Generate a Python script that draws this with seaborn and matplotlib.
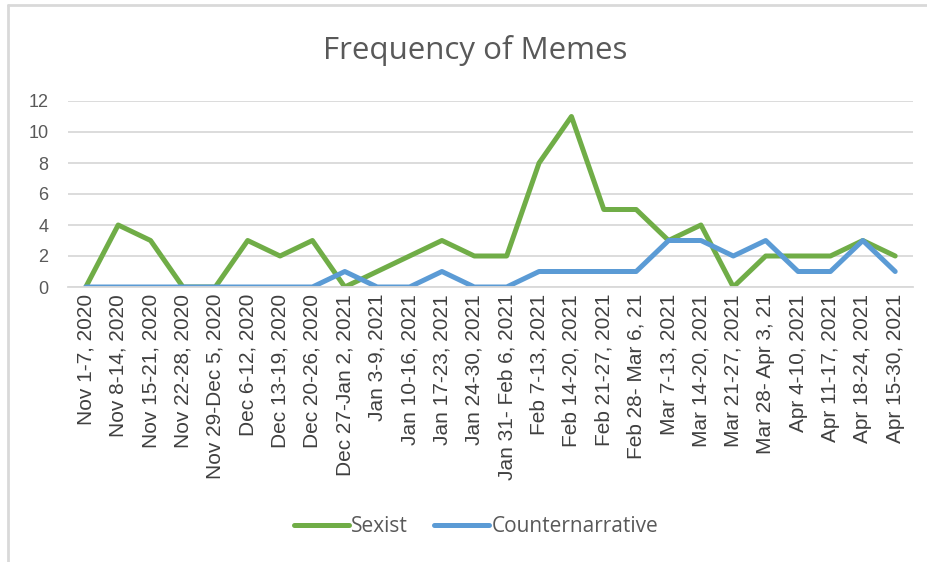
import matplotlib
matplotlib.use("Agg")
import matplotlib.pyplot as plt
from matplotlib.lines import Line2D
import seaborn as sns
import pandas as pd

weeks = ["Nov 1-7, 2020", "Nov 8-14, 2020", "Nov 15-21, 2020", "Nov 22-28, 2020",
         "Nov 29-Dec 5, 2020", "Dec 6-12, 2020", "Dec 13-19, 2020", "Dec 20-26, 2020",
         "Dec 27-Jan 2, 2021", "Jan 3-9, 2021", "Jan 10-16, 2021", "Jan 17-23, 2021",
         "Jan 24-30, 2021", "Jan 31- Feb 6, 2021", "Feb 7-13, 2021", "Feb 14-20, 2021",
         "Feb 21-27, 2021", "Feb 28- Mar 6, 21", "Mar 7-13, 2021", "Mar 14-20, 2021",
         "Mar 21-27, 2021", "Mar 28- Apr 3, 21", "Apr 4-10, 2021", "Apr 11-17, 2021",
         "Apr 18-24, 2021", "Apr 15-30, 2021"]
sexist = [0, 4, 3, 0, 0, 3, 2, 3, 0, 1, 2, 3, 2, 2, 8, 11, 5, 5, 3, 4, 0, 2, 2, 2, 3, 2]
counter = [0, 0, 0, 0, 0, 0, 0, 0, 1, 0, 0, 1, 0, 0, 1, 1, 1, 1, 3, 3, 2, 3, 1, 1, 3, 1]
series_names = ["Sexist", "Counternarrative"]
y_ticks = [0, 2, 4, 6, 8, 10, 12]

df = pd.concat([
    pd.DataFrame({"week": weeks, "count": sexist, "series": series_names[0]}),
    pd.DataFrame({"week": weeks, "count": counter, "series": series_names[1]}),
])

sns.set_theme(style="white")
plt.rcParams["font.family"] = ["Open Sans", "DejaVu Sans"]
txt = "#595959"

fig = plt.figure(figsize=(9.28, 5.62), dpi=100)
ax = fig.add_axes([68 / 928, 1 - 287 / 562, (913 - 68) / 928, (287 - 101) / 562])

sns.lineplot(data=df, x="week", y="count", hue="series", sort=False,
             palette={"Sexist": "#70AD47", "Counternarrative": "#5B9BD5"},
             linewidth=3.6, ax=ax, legend=False)

ax.set_xlim(-0.55, len(weeks) - 0.45)
ax.set_ylim(0, 12)
ax.set_yticks(y_ticks)
ax.set_xticks(range(len(weeks)))
ax.set_xticklabels(weeks, rotation=90, fontsize=15, color="#404040", fontfamily=["Liberation Sans"])
ax.tick_params(axis="y", labelsize=13, labelcolor=txt, length=0, pad=14)
ax.tick_params(axis="x", length=0, pad=5)
for lab in ax.get_yticklabels():
    lab.set_fontfamily(["Liberation Sans"])
ax.grid(axis="y", color="#D9D9D9", linewidth=1.3)
ax.grid(axis="x", visible=False)
for s in ["top", "right", "left"]:
    ax.spines[s].set_visible(False)
ax.spines["bottom"].set_color("#D9D9D9")
ax.spines["bottom"].set_linewidth(1.3)
ax.set_xlabel("")
ax.set_ylabel("")
ax.set_axisbelow(True)

fig.text(475 / 928, 1 - 50 / 562, "Frequency of Memes", ha="center", va="center",
         fontsize=22.5, color=txt)

handles = [Line2D([], [], color="#70AD47", linewidth=3.6),
           Line2D([], [], color="#5B9BD5", linewidth=3.6)]
fig.legend(handles, series_names, loc="center", bbox_to_anchor=(476 / 928, 1 - 527 / 562),
           ncol=2, frameon=False, fontsize=15, handlelength=2.65, handletextpad=0.1,
           columnspacing=1.25, labelcolor=txt)

fig.add_artist(Line2D([8 / 928, 1], [1 - 5 / 562, 1 - 5 / 562], color="#D9D9D9", linewidth=2))
fig.add_artist(Line2D([8 / 928, 8 / 928], [0, 1 - 5 / 562], color="#D9D9D9", linewidth=2))

fig.savefig("out.png", dpi=100)
